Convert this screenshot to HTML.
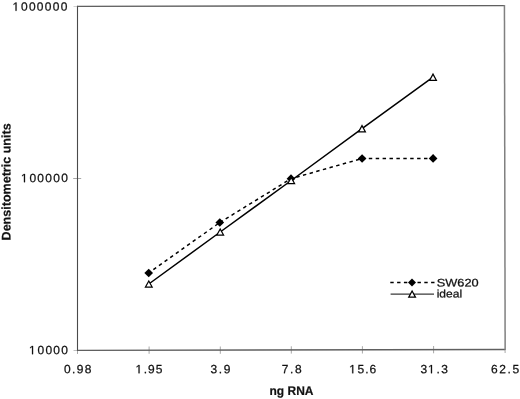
<!DOCTYPE html>
<html><head><meta charset="utf-8">
<style>
html,body{margin:0;padding:0;background:#fff;}
body{width:520px;height:399px;overflow:hidden;}
svg{display:block;filter:grayscale(1);}
text{font-family:"Liberation Sans",sans-serif;fill:#111;stroke:#111;stroke-width:0.25px;}
.tl{font-size:12px;}
.ax{font-size:12.5px;font-weight:bold;stroke-width:0.2px;}
.lg{font-size:11px;}
.h{fill:none;stroke:none;}
</style></head>
<body>
<svg width="520" height="399" viewBox="0 0 520 399">
<g stroke="#a8a8a8" stroke-width="1">
<line x1="73.5" y1="6.5" x2="77" y2="6.5" stroke="#d0d0d0"/>
<line x1="73.2" y1="178.5" x2="81.2" y2="178.5"/>
<line x1="73.5" y1="350.5" x2="77" y2="350.5" stroke="#c0c0c0"/>
<line x1="77.5" y1="350.5" x2="77.5" y2="354"/>
<line x1="149.1" y1="346.5" x2="149.1" y2="353.8"/>
<line x1="220.3" y1="346.5" x2="220.3" y2="353.8"/>
<line x1="291.3" y1="346.3" x2="291.3" y2="353.6"/>
<line x1="362.4" y1="346.2" x2="362.4" y2="353.5"/>
<line x1="433.6" y1="346" x2="433.6" y2="353.3"/>
<line x1="505.1" y1="349.5" x2="505.1" y2="353"/>
</g>
<g fill="none">
<line x1="77.5" y1="5.75" x2="77.5" y2="350.96000000000004" stroke="#4a4a4a" stroke-width="1.1"/>
<line x1="77.5" y1="6.35" x2="504.44" y2="5.6" stroke="#606060" stroke-width="1.4"/>
<line x1="77.5" y1="350.36" x2="505.14" y2="349.43" stroke="#606060" stroke-width="1.4"/>
<line x1="504.44" y1="5.0" x2="505.14" y2="350.03000000000003" stroke="#808080" stroke-width="1.5"/>
</g>
<g stroke="#000" stroke-width="1.5" stroke-dasharray="3.45 3.45" fill="none">
<line x1="148.7" y1="273.0" x2="219.8" y2="222.5" stroke-dashoffset="1.2"/>
<line x1="219.8" y1="222.5" x2="291.0" y2="178.7" stroke-dashoffset="0"/>
<line x1="291.0" y1="178.7" x2="362.1" y2="158.5" stroke-dashoffset="1.37"/>
<line x1="362.1" y1="158.5" x2="433.1" y2="158.4" stroke-dashoffset="0.2"/>
</g>
<polyline points="148.8,284.0 220.2,232.0 291.2,180.5 362.0,128.7 433.0,77.2" fill="none" stroke="#000" stroke-width="1.5"/>
<g fill="#000"><path d="M148.7,268.65 L153.04999999999998,273.0 L148.7,277.35 L144.35,273.0Z"/><path d="M219.8,218.15 L224.15,222.5 L219.8,226.85 L215.45000000000002,222.5Z"/><path d="M291.0,174.35 L295.35,178.7 L291.0,183.04999999999998 L286.65,178.7Z"/><path d="M362.1,154.15 L366.45000000000005,158.5 L362.1,162.85 L357.75,158.5Z"/><path d="M433.1,154.05 L437.45000000000005,158.4 L433.1,162.75 L428.75,158.4Z"/></g>
<g fill="#fff" stroke="#000" stroke-width="1.25"><path d="M148.8,280.95 L152.15,287.05 L145.45000000000002,287.05Z"/><path d="M220.2,228.95 L223.54999999999998,235.05 L216.85,235.05Z"/><path d="M291.2,177.45 L294.55,183.55 L287.84999999999997,183.55Z"/><path d="M362.0,125.64999999999999 L365.35,131.75 L358.65,131.75Z"/><path d="M433.0,74.15 L436.35,80.25 L429.65,80.25Z"/></g>
<line x1="390.3" y1="282.6" x2="434.5" y2="282.6" stroke="#000" stroke-width="1.5" stroke-dasharray="3.4 3.4"/>
<path d="M412,278.6 L416,282.6 L412,286.6 L408,282.6Z" fill="#000"/>
<line x1="390.6" y1="294.1" x2="434" y2="294.1" stroke="#3a3a3a" stroke-width="1.4"/>
<path d="M412.1,291.05 L415.45000000000005,297.15000000000003 L408.75,297.15000000000003Z" fill="#fff" stroke="#000" stroke-width="1.25"/>
<g transform="rotate(-0.1 291 178)">
<text id="t1000000" class="tl" x="13.29" y="10.32" textLength="54.40" lengthAdjust="spacing"><tspan class="h">1</tspan>000000</text>
<text id="t100000" class="tl" x="21.44" y="181.73" textLength="46.50" lengthAdjust="spacing"><tspan class="h">1</tspan>00000</text>
<text id="t10000" class="tl" x="29.19" y="353.74" textLength="38.50" lengthAdjust="spacing"><tspan class="h">1</tspan>0000</text>
<text id="t0_98" class="tl" x="63.66" y="372.90" textLength="27.50" lengthAdjust="spacing">0.98</text>
<text id="t1_95" class="tl" x="135.66" y="373.03" textLength="26.50" lengthAdjust="spacing"><tspan class="h">1</tspan>.95</text>
<text id="t3_9" class="tl" x="210.16" y="373.16" textLength="20.00" lengthAdjust="spacing">3.9</text>
<text id="t7_8" class="tl" x="281.36" y="373.28" textLength="20.00" lengthAdjust="spacing">7.8</text>
<text id="t15_6" class="tl" x="349.36" y="373.40" textLength="26.50" lengthAdjust="spacing"><tspan class="h">1</tspan>5.6</text>
<text id="t31_3" class="tl" x="420.06" y="373.53" textLength="27.50" lengthAdjust="spacing">3<tspan class="h">1</tspan>.3</text>
<text id="t62_5" class="tl" x="490.76" y="373.65" textLength="28.00" lengthAdjust="spacing">62.5</text>
<g class="one" fill="#111" stroke="#111" stroke-width="42.7"><path transform="translate(12.79,10.32) scale(0.005859,-0.005859)" d="M515,0L515,1237L197,1010L197,1180L530,1409L696,1409L696,0Z"/><path transform="translate(20.94,181.73) scale(0.005859,-0.005859)" d="M515,0L515,1237L197,1010L197,1180L530,1409L696,1409L696,0Z"/><path transform="translate(28.69,353.74) scale(0.005859,-0.005859)" d="M515,0L515,1237L197,1010L197,1180L530,1409L696,1409L696,0Z"/><path transform="translate(135.16,373.03) scale(0.005859,-0.005859)" d="M515,0L515,1237L197,1010L197,1180L530,1409L696,1409L696,0Z"/><path transform="translate(348.86,373.40) scale(0.005859,-0.005859)" d="M515,0L515,1237L197,1010L197,1180L530,1409L696,1409L696,0Z"/><path transform="translate(427.61,373.53) scale(0.005859,-0.005859)" d="M515,0L515,1237L197,1010L197,1180L530,1409L696,1409L696,0Z"/></g>
<text id="tngRNA" class="ax" x="269.12" y="395.06" textLength="44.00" lengthAdjust="spacingAndGlyphs">ng RNA</text>
<g transform="translate(10.49,239.91) rotate(-90)"><text id="tDens" class="ax" x="0.00" y="0.00" textLength="117.00" lengthAdjust="spacingAndGlyphs">Densitometric units</text></g>
<text id="tSW620" class="lg" x="436.51" y="286.75" textLength="42.00" lengthAdjust="spacingAndGlyphs">SW620</text>
<text id="tideal" class="lg" x="436.49" y="297.80" textLength="25.50" lengthAdjust="spacingAndGlyphs">ideal</text>
</g>
</svg>
</body></html>
